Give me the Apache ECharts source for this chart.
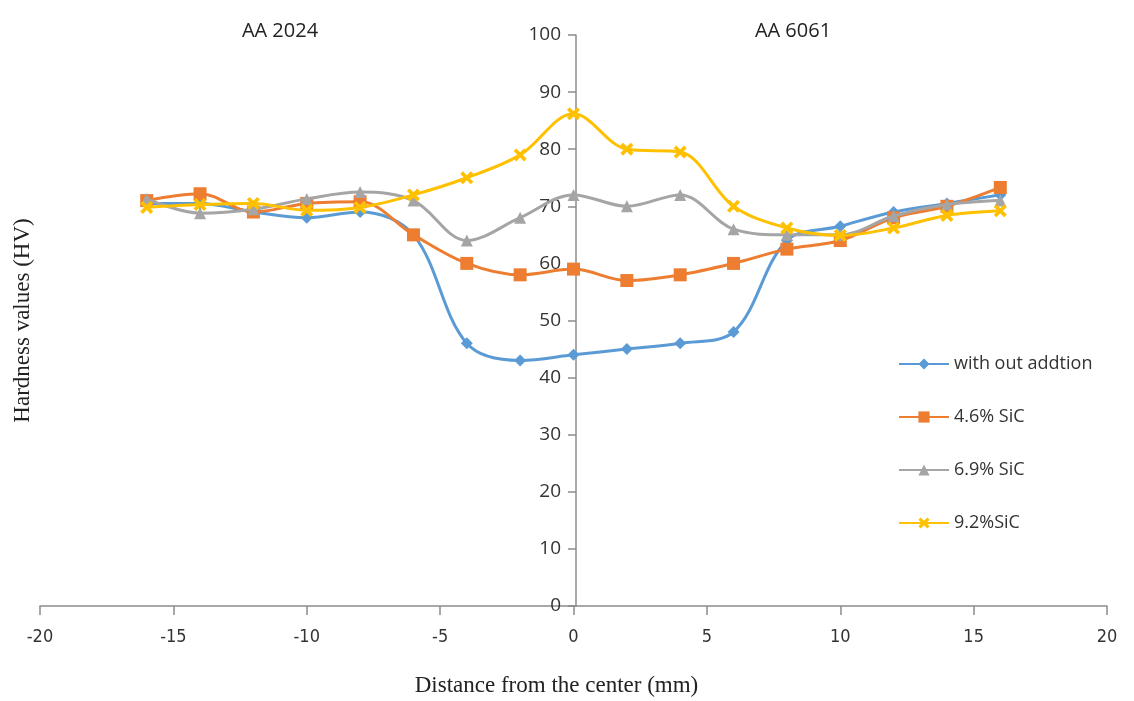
<!DOCTYPE html>
<html>
<head>
<meta charset="utf-8">
<script src="https://cdn.jsdelivr.net/npm/echarts@6/dist/echarts.min.js"></script>
<style>html,body{margin:0;padding:0;background:#fff}#c{width:1134px;height:701px}</style>
</head>
<body>
<div id="c"></div>
<script>
const distances = [-16, -14, -12, -10, -8, -6, -4, -2, 0, 2, 4, 6, 8, 10, 12, 14, 16];
const seriesNames = ['with out addtion', '4.6% SiC', '6.9% SiC', '9.2%SiC'];
const noAddition = [70.5, 70.5, 69, 68, 69, 65, 46, 43, 44, 45, 46, 48, 64, 66.5, 69, 70.5, 72];
const sic46 = [71, 72.2, 69, 70.5, 70.8, 65, 60, 58, 59, 57, 58, 60, 62.5, 64, 68, 70, 73.3];
const sic69 = [71.3, 68.8, 69.5, 71.3, 72.5, 71, 64, 68, 72, 70, 72, 66, 65, 65, 68.3, 70.3, 71];
const sic92 = [69.8, 70.3, 70.5, 69.3, 69.8, 72, 75, 79, 86.2, 80, 79.5, 70, 66.2, 64.9, 66.2, 68.4, 69.2];
const xTicks = [-20, 20, 5];
const yTicks = [0, 100, 10];
const regionLabels = ['AA 2024', 'AA 6061'];

const colors = ['#5B9BD5', '#ED7D31', '#A5A5A5', '#FFC000'];
const xMark = 'path://M0,2 L2,0 L5,3 L8,0 L10,2 L7,5 L10,8 L8,10 L5,7 L2,10 L0,8 L3,5 Z';
const symbols = ['diamond', 'rect', 'triangle', xMark];
const symSizes = [12, 13, 12, 13];
const values = [noAddition, sic46, sic69, sic92];

const chart = echarts.init(document.getElementById('c'), null, {renderer: 'canvas'});
const axisColor = '#8c8c8c';
const labelFont = '"Open Sans", "Noto Sans", sans-serif';
chart.setOption({
  animation: false,
  color: colors,
  title: [
    {text: regionLabels[0], left: 275, top: 16, textAlign: 'center',
     textStyle: {fontFamily: labelFont, fontSize: 20, fontWeight: 'normal', color: '#222'}},
    {text: regionLabels[1], left: 788, top: 16, textAlign: 'center',
     textStyle: {fontFamily: labelFont, fontSize: 20, fontWeight: 'normal', color: '#222'}}
  ],
  grid: {left: 40, right: 27, top: 35, bottom: 95, containLabel: false, outerBoundsMode: 'none'},
  legend: {
    orient: 'vertical', left: 893, top: 350, itemGap: 35, itemWidth: 50, itemHeight: 14,
    data: seriesNames,
    textStyle: {fontFamily: labelFont, fontSize: 18, color: '#333'}
  },
  xAxis: {
    type: 'value', min: xTicks[0], max: xTicks[1], interval: xTicks[2],
    splitLine: {show: false},
    axisLine: {lineStyle: {color: axisColor, width: 1.5}},
    axisTick: {show: true, length: 9, lineStyle: {color: axisColor, width: 1.5}},
    axisLabel: {margin: 22, fontFamily: '"Liberation Sans Narrow", "DejaVu Sans Condensed", sans-serif', fontSize: 18, color: '#333'},
    name: 'Distance from the center (mm)', nameLocation: 'middle', nameGap: 68,
    nameTextStyle: {fontFamily: '"Liberation Serif", "DejaVu Serif", serif', fontSize: 23, color: '#222', padding: [0, 34, 0, 0]}
  },
  yAxis: {
    type: 'value', min: yTicks[0], max: yTicks[1], interval: yTicks[2],
    position: 'left', offset: -536,
    splitLine: {show: false},
    axisLine: {show: true, onZero: false, lineStyle: {color: axisColor, width: 1.5}},
    axisTick: {show: true, length: 8, lineStyle: {color: axisColor, width: 1.5}},
    axisLabel: {margin: 15, fontFamily: labelFont, fontSize: 19, color: '#333'},
    name: 'Hardness values (HV)', nameLocation: 'middle', nameGap: 542,
    nameTextStyle: {fontFamily: '"Liberation Serif", "DejaVu Serif", serif', fontSize: 23, color: '#222'}
  },
  series: values.map((v, i) => ({
    name: seriesNames[i], type: 'line', smooth: 0.35,
    data: distances.map((d, j) => [d, v[j]]),
    symbol: symbols[i], symbolSize: symSizes[i], showSymbol: true,
    lineStyle: {width: 3, color: colors[i]},
    itemStyle: {color: colors[i]},
    z: 2 + i
  }))
});
</script>
</body>
</html>
